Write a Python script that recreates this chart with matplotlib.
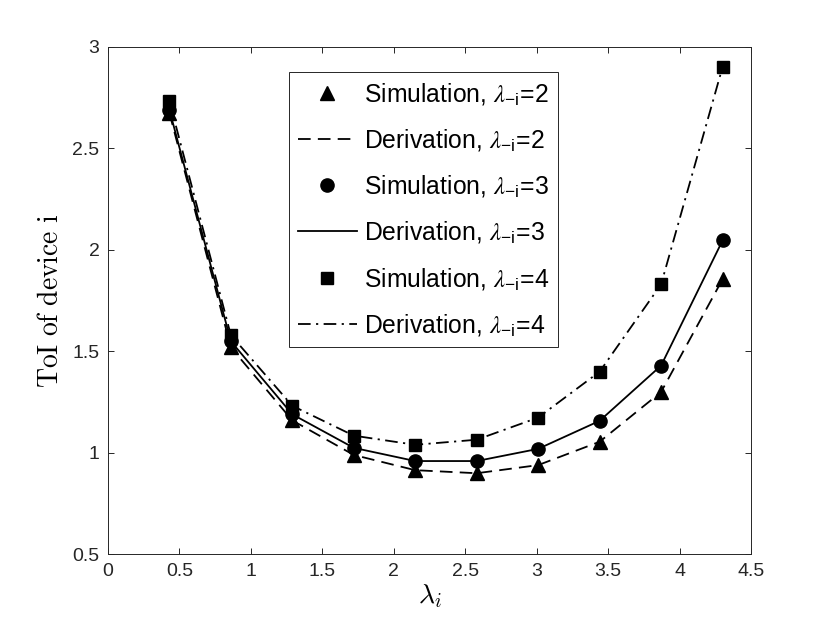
import matplotlib
matplotlib.use('Agg')
import matplotlib.pyplot as plt
import numpy as np

# arrival rate of device i
lam_i = [0.43, 0.86, 1.29, 1.72, 2.15, 2.58, 3.01, 3.44, 3.87, 4.30]

# simulation results
sim_2 = [2.675, 1.52, 1.16, 0.99, 0.915, 0.90, 0.94, 1.055, 1.30, 1.855]
sim_3 = [2.69, 1.55, 1.19, 1.025, 0.96, 0.96, 1.02, 1.158, 1.43, 2.046]
sim_4 = [2.733, 1.58, 1.232, 1.085, 1.04, 1.065, 1.174, 1.40, 1.83, 2.90]

# derivation results
der_2 = [2.675, 1.52, 1.16, 0.99, 0.915, 0.90, 0.94, 1.055, 1.30, 1.855]
der_3 = [2.69, 1.55, 1.19, 1.025, 0.96, 0.96, 1.02, 1.158, 1.43, 2.046]
der_4 = [2.733, 1.58, 1.232, 1.085, 1.04, 1.065, 1.174, 1.40, 1.83, 2.90]

xticks = [0, 0.5, 1, 1.5, 2, 2.5, 3, 3.5, 4, 4.5]
yticks = [0.5, 1, 1.5, 2, 2.5, 3]

plt.rcParams['font.family'] = ['Liberation Sans', 'DejaVu Sans']
plt.rcParams['mathtext.fontset'] = 'stix'

fig = plt.figure(figsize=(8.3, 6.23), dpi=100)
ax = fig.add_axes([0.13, 0.11, 0.775, 0.815])

lw = 1.3
sub = r'$\lambda_{\mathregular{-i}}$'
ax.plot(lam_i, sim_2, linestyle='none', marker='^', ms=10, color='k',
        label='Simulation, ' + sub + '=2')
ax.plot(lam_i, der_2, linestyle=(0, (7, 4)), lw=lw, color='k',
        label='Derivation, ' + sub + '=2')
ax.plot(lam_i, sim_3, linestyle='none', marker='o', ms=9.5, color='k',
        label='Simulation, ' + sub + '=3')
ax.plot(lam_i, der_3, linestyle='-', lw=lw, color='k',
        label='Derivation, ' + sub + '=3')
ax.plot(lam_i, sim_4, linestyle='none', marker='s', ms=8.5, color='k',
        label='Simulation, ' + sub + '=4')
ax.plot(lam_i, der_4, linestyle=(0, (7, 3, 1.2, 3)), lw=lw, color='k',
        label='Derivation, ' + sub + '=4')

ax.set_xlim(0, 4.5)
ax.set_ylim(0.5, 3)
ax.set_xticks(xticks)
ax.set_xticklabels([f'{t:g}' for t in xticks])
ax.set_yticks(yticks)
ax.set_yticklabels([f'{t:g}' for t in yticks])
ax.tick_params(direction='in', length=4.5, width=0.7, top=True, right=True,
               labelsize=14, colors='#262626', pad=6)
for sp in ax.spines.values():
    sp.set_color('#262626')
    sp.set_linewidth(0.7)

xl = ax.set_xlabel(r'$\lambda_i$', fontsize=20, labelpad=2)
xl.set_math_fontfamily('cm')
yl = ax.set_ylabel(r'$\mathrm{ToI\ of\ device\ i}$', fontsize=20, labelpad=6)
yl.set_math_fontfamily('cm')

leg = ax.legend(loc='upper left', bbox_to_anchor=(289 / 830, 1 - 72 / 623),
                bbox_transform=fig.transFigure, borderaxespad=0,
                fontsize=17.8, frameon=True, fancybox=False, framealpha=1,
                edgecolor='#262626', handlelength=2.4, handletextpad=0.3,
                labelspacing=0.82, borderpad=0.35)
leg.get_frame().set_linewidth(0.7)

fig.savefig('out.png', dpi=100)
